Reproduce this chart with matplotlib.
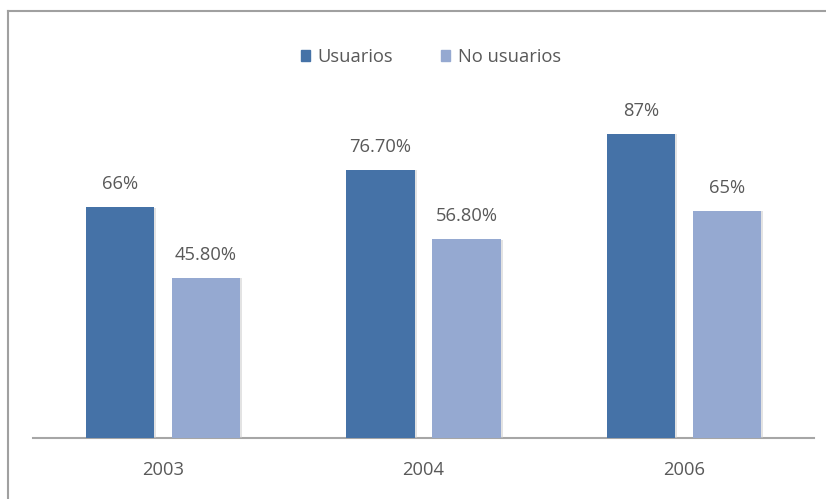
import matplotlib.pyplot as plt
import matplotlib.patheffects as pe
import numpy as np
from matplotlib.patches import Patch
from matplotlib.lines import Line2D

years = ['2003', '2004', '2006']
usuarios = [66, 76.7, 87]
no_usuarios = [45.8, 56.8, 65]
usuarios_labels = ['66%', '76.70%', '87%']
no_usuarios_labels = ['45.80%', '56.80%', '65%']

dark = '#4572A7'
light = '#95A9D1'
txt = '#595959'

plt.rcParams['font.family'] = ['Open Sans', 'DejaVu Sans']

W, H = 826, 499
fig = plt.figure(figsize=(W / 100, H / 100), dpi=100)
ax = fig.add_axes([33 / W, (H - 437.7) / H, 781 / W, 349.4 / H])

x = np.arange(len(years))
off = 0.165
width = 0.262
shadow = [pe.SimplePatchShadow(offset=(1.5, -0.5), shadow_rgbFace='#c8c8c8', alpha=0.5), pe.Normal()]
b1 = ax.bar(x - off, usuarios, width, color=dark, path_effects=shadow, zorder=3)
b2 = ax.bar(x + off, no_usuarios, width, color=light, path_effects=shadow, zorder=3)

for bars, labels in ((b1, usuarios_labels), (b2, no_usuarios_labels)):
    for rect, lab in zip(bars, labels):
        ax.annotate(lab, (rect.get_x() + rect.get_width() / 2, rect.get_height()),
                    xytext=(0, 10), textcoords='offset points', ha='center', va='bottom',
                    fontsize=13.2, color=txt)

ax.set_xlim(-0.5, 2.5)
ax.set_ylim(0, 100)
ax.set_xticks(x)
ax.set_xticklabels(years, fontsize=13.2, color=txt)
ax.tick_params(axis='x', length=0, pad=17)
ax.set_yticks([])
for s in ['top', 'right', 'left']:
    ax.spines[s].set_visible(False)
ax.spines['bottom'].set_color('#a6a6a6')
ax.spines['bottom'].set_linewidth(1.5)

handles = [Patch(color=dark, label='Usuarios'), Patch(color=light, label='No usuarios')]
fig.legend(handles=handles, loc='center', bbox_to_anchor=(431 / W, 1 - 57 / H), ncol=2,
           frameon=False, fontsize=13.2, handlelength=0.5, handleheight=0.5,
           columnspacing=2.6, handletextpad=0.4, labelcolor=txt)

# outer chart border (cropped on right and bottom)
fig.add_artist(Line2D([8 / W, 1.0], [1 - 11 / H, 1 - 11 / H], transform=fig.transFigure,
                      color='#a0a0a0', linewidth=1.5))
fig.add_artist(Line2D([8 / W, 8 / W], [0, 1 - 11 / H], transform=fig.transFigure,
                      color='#a0a0a0', linewidth=1.5))

fig.savefig('out.png', dpi=100)
